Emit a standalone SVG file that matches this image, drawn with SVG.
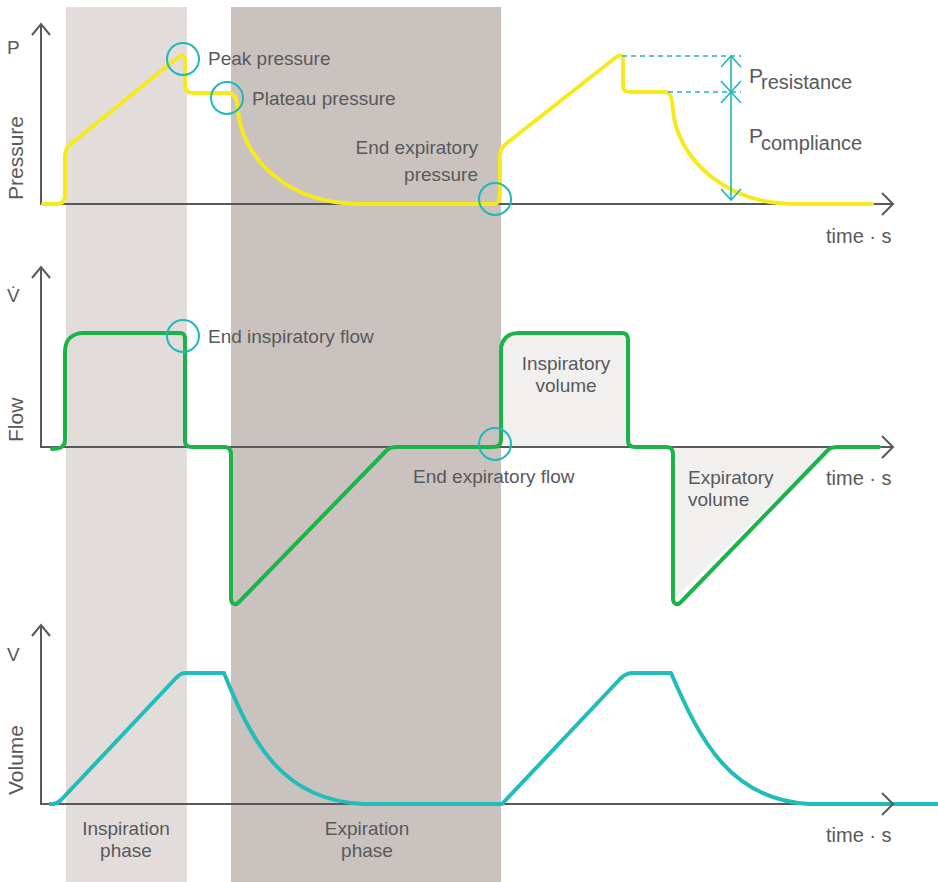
<svg xmlns="http://www.w3.org/2000/svg" width="938" height="882" viewBox="0 0 938 882">
<style>
.t{font-family:"Liberation Sans",Arial,sans-serif;font-size:19px;fill:#58595b}
.tm{font-size:20px}
.ax{fill:none;stroke:#58595b;stroke-width:2}
.yel{fill:none;stroke:#f6ea1f;stroke-width:4;stroke-linejoin:round;stroke-linecap:round}
.grn{fill:none;stroke:#1db34b;stroke-width:4;stroke-linejoin:round;stroke-linecap:round}
.teal{fill:none;stroke:#22bdb8;stroke-width:4;stroke-linejoin:round}
.ring{fill:none;stroke:#22b8b6;stroke-width:2}
.tl{fill:none;stroke:#22b8b6;stroke-width:1.6}
.dash{stroke-dasharray:5 4}
.fillv{fill:#f1f0ee}
</style>
<rect width="938" height="882" fill="#ffffff"/>
<g id="bands">
<rect id="inspiration-band" x="66" y="7" width="121" height="875" fill="#e2dddb"/>
<rect id="expiration-band" x="231" y="7" width="270" height="875" fill="#c9c2bf"/>
</g>
<g id="pressure-panel">
<polyline class="ax" points="41,24 41,204 893,204"/>
<polyline class="ax" points="32,35 41,24 50,35"/>
<polyline class="ax" points="882,193 893,204 882,215"/>
<text class="t" x="7" y="54">P</text>
<text class="t" x="23" y="200" font-size="21" transform="rotate(-90 23 200)" style="font-size:21px">Pressure</text>
<path class="yel" d="M43,204 H57 C62,204 65,201 65,194 V156 C65,150 67,147 72,143 L177,58 C181,55 185,54 185,60 V86 C185,91 188,93 194,93 H228 C234,93 237,97 238,110 C242,160 290,204 360,204 H493 C498,204 500,201 500,194 V156 C500,150 502,147 507,143 L615,58 C619,55 623,54 623,60 V86 C623,91 626,92 632,92 H665 C670,92 672,96 673,110 C677,158 725,204 795,204 H872"/>
<text class="t tm" x="826" y="243">time · s</text>
</g>
<g id="pressure-annotations">
<circle class="ring" cx="183" cy="59" r="16"/>
<text class="t" x="208" y="65">Peak pressure</text>
<circle class="ring" cx="227" cy="98" r="16"/>
<text class="t" x="252" y="105">Plateau pressure</text>
<circle class="ring" cx="495" cy="199" r="16"/>
<text class="t" x="478" y="154" text-anchor="end">End expiratory</text>
<text class="t" x="478" y="181" text-anchor="end">pressure</text>
<line class="tl dash" x1="622" y1="56" x2="741" y2="56"/>
<line class="tl dash" x1="668" y1="92" x2="741" y2="92"/>
<line class="tl" x1="731" y1="56" x2="731" y2="200"/>
<polyline class="tl" points="721,67 731,56 741,67"/>
<polyline class="tl" points="721,81 731,92 741,81"/>
<polyline class="tl" points="721,103 731,92 741,103"/>
<polyline class="tl" points="721,189 731,200 741,189"/>
<text class="t" x="749" y="83" style="font-size:21px">P</text>
<text class="t tm" x="761" y="89">resistance</text>
<text class="t" x="749" y="143" style="font-size:21px">P</text>
<text class="t tm" x="761" y="150">compliance</text>
</g>
<g id="flow-panel">
<path class="fillv" d="M501,447 V350 C501,340 508,333 518,333 H622 C626,333 628,335 628,340 V447 Z"/>
<path class="fillv" d="M673,447 V600 L830,447 Z"/>
<polyline class="ax" points="41,267 41,447 893,447"/>
<polyline class="ax" points="32,278 41,267 50,278"/>
<polyline class="ax" points="882,436 893,447 882,458"/>
<text class="t" x="7" y="302">V̇</text>
<text class="t" x="23" y="442" transform="rotate(-90 23 442)" style="font-size:21px">Flow</text>
<path class="grn" d="M52,449 C60,449 65,447 65,440 V352 C65,340 72,333 84,333 H180 C184,333 185,335 185,339 V441 C185,445 187,447 192,447 H225 C229,447 231,450 231,455 V598 C231,604 235,606 239,602 L387,450 C390,447 393,447 397,447 H493 C498,447 501,445 501,440 V350 C501,340 508,333 518,333 H622 C626,333 628,335 628,340 V441 C628,445 630,447 635,447 H667 C671,447 673,450 673,455 V598 C673,604 677,606 681,602 L828,450 C831,447 834,447 838,447 H879"/>
<text class="t tm" x="826" y="485">time · s</text>
</g>
<g id="flow-annotations">
<circle class="ring" cx="183" cy="336" r="16"/>
<text class="t" x="208" y="343">End inspiratory flow</text>
<circle class="ring" cx="495" cy="444" r="16"/>
<text class="t" x="413" y="483">End expiratory flow</text>
<text class="t" x="566" y="370" text-anchor="middle">Inspiratory</text>
<text class="t" x="566" y="392" text-anchor="middle">volume</text>
<text class="t" x="688" y="484">Expiratory</text>
<text class="t" x="688" y="506">volume</text>
</g>
<g id="volume-panel">
<polyline class="ax" points="41,625 41,804 893,804"/>
<polyline class="ax" points="32,636 41,625 50,636"/>
<text class="t" x="7" y="661">V</text>
<text class="t" x="23" y="795" transform="rotate(-90 23 795)" style="font-size:21px">Volume</text>
<path class="teal" d="M49,804 H53 C56,804 58,803 61,800 L176,678 C180,674 182,673 187,673 H224 C253,745 283,800 363,804 H502 L621,678 C625,674 628,673 633,673 H671 C700,740 730,800 810,804 H938"/>
<polyline class="ax" points="882,793 893,804 882,815"/>
<text class="t tm" x="826" y="842">time · s</text>
</g>
<g id="phase-labels">
<text class="t" x="126" y="835" text-anchor="middle">Inspiration</text>
<text class="t" x="126" y="857" text-anchor="middle">phase</text>
<text class="t" x="367" y="835" text-anchor="middle">Expiration</text>
<text class="t" x="367" y="857" text-anchor="middle">phase</text>
</g>
</svg>
